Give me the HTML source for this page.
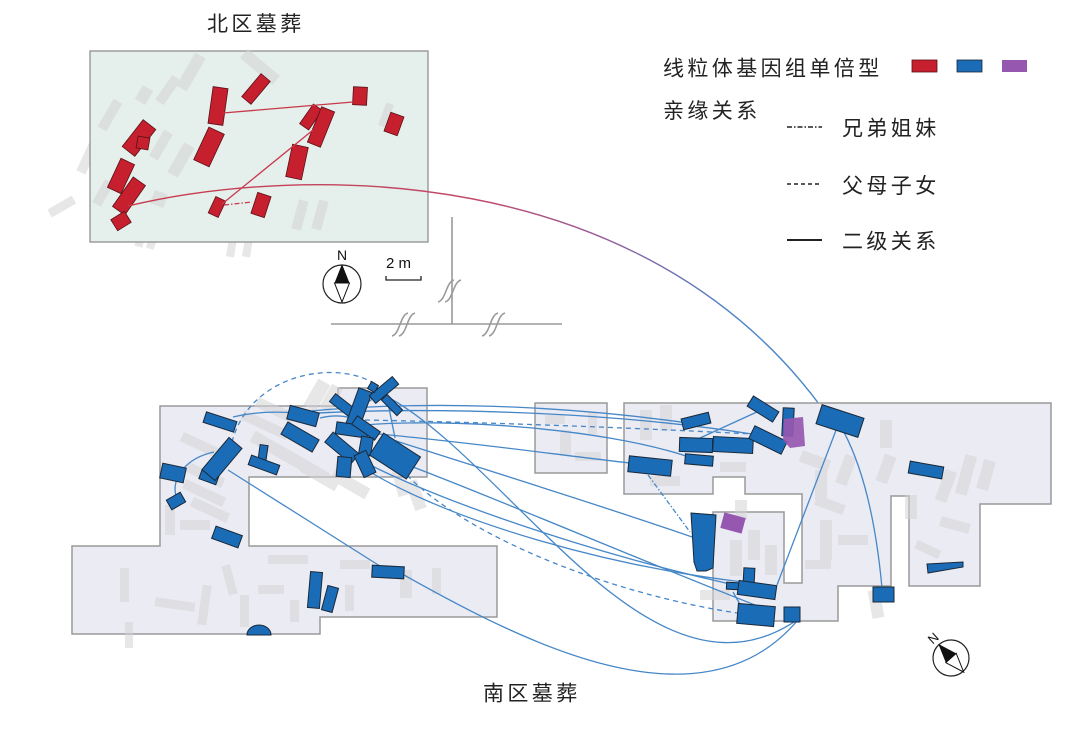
<!DOCTYPE html>
<html><head><meta charset="utf-8"><style>
html,body{margin:0;padding:0;background:#fff;}
svg{display:block;}
.cjk{font-family:"Liberation Sans","Noto Sans CJK SC",sans-serif;font-size:21px;letter-spacing:3.4px;fill:#222;}
.lat{font-family:"Liberation Sans",sans-serif;fill:#111;}
.r{fill:#c61f2e;stroke:#5a1018;stroke-width:0.8;}
.b{fill:#1a6cb6;stroke:#1b2838;stroke-width:1;}
.g{fill:#d4d4d6;opacity:.55;}
.bl{fill:none;stroke:#4687c8;stroke-width:1.3;}
</style></head><body>
<svg width="1080" height="737" viewBox="0 0 1080 737" xmlns="http://www.w3.org/2000/svg">
<defs>
<linearGradient id="gr" gradientUnits="userSpaceOnUse" x1="130" y1="0" x2="820" y2="0">
<stop offset="0" stop-color="#c8394a"/><stop offset="0.5" stop-color="#c04a6a"/><stop offset="0.68" stop-color="#9a5a9a"/><stop offset="0.88" stop-color="#4a85c6"/><stop offset="1" stop-color="#4687c8"/>
</linearGradient>
</defs>

<!-- north title -->
<text class="cjk" x="207" y="31">北区墓葬</text>

<!-- north ghost shapes outside -->
<g class="g">
<rect x="48" y="202" width="28" height="9" transform="rotate(-30 62 207)"/>
<rect x="83" y="140" width="10" height="34" transform="rotate(25 88 157)"/>
<rect x="137" y="227" width="8" height="20" transform="rotate(15 141 237)"/>
<rect x="228" y="233" width="8" height="24" transform="rotate(10 232 245)"/>
<rect x="244" y="233" width="8" height="24" transform="rotate(10 248 245)"/>
<rect x="148" y="235" width="8" height="14" transform="rotate(20 152 242)"/>
</g>

<!-- north box -->
<rect x="90" y="51" width="338" height="191" fill="#e5efeb" stroke="#8f8f8f" stroke-width="1.3"/>
<g class="g">
<rect x="105" y="99" width="10" height="32" transform="rotate(30 110 115)"/>
<rect x="138" y="87" width="12" height="16" transform="rotate(30 144 95)"/>
<rect x="163" y="75" width="10" height="30" transform="rotate(35 168 90)"/>
<rect x="185" y="53" width="12" height="38" transform="rotate(30 191 72)"/>
<rect x="254" y="46" width="12" height="42" transform="rotate(-50 260 67)"/>
<rect x="156" y="130" width="10" height="30" transform="rotate(30 161 145)"/>
<rect x="175" y="143" width="12" height="34" transform="rotate(30 181 160)"/>
<rect x="295" y="200" width="10" height="30" transform="rotate(15 300 215)"/>
<rect x="315" y="200" width="10" height="30" transform="rotate(15 320 215)"/>
<rect x="382" y="103" width="8" height="24" transform="rotate(20 386 115)"/>
<rect x="152" y="192" width="14" height="14" transform="rotate(20 159 199)"/>
<rect x="98" y="180" width="10" height="26" transform="rotate(30 103 193)"/>
</g>

<!-- red tombs -->
<rect class="r" x="210.5" y="87.5" width="15" height="37" transform="rotate(8 218 106)"/>
<rect class="r" x="250" y="74" width="12" height="30" transform="rotate(40 256 89)"/>
<rect class="r" x="200.5" y="129" width="17" height="36" transform="rotate(25 209 147)"/>
<rect class="r" x="353" y="87" width="14" height="18" transform="rotate(3 360 96)"/>
<rect class="r" x="387" y="114" width="14" height="20" transform="rotate(20 394 124)"/>
<rect class="r" x="305.5" y="105" width="11" height="24" transform="rotate(35 311 117)"/>
<rect class="r" x="314" y="108" width="14" height="38" transform="rotate(22 321 127)"/>
<rect class="r" x="289" y="145.5" width="16" height="33" transform="rotate(12 297 162)"/>
<rect class="r" x="131" y="121" width="16" height="34" transform="rotate(38 139 138)"/>
<rect class="r" x="137" y="137" width="12" height="12" transform="rotate(10 143 143)" fill="#b01827"/>
<rect class="r" x="113.5" y="160" width="15" height="32" transform="rotate(25 121 176)"/>
<rect class="r" x="121.5" y="178" width="15" height="36" transform="rotate(35 129 196)"/>
<rect class="r" x="114.5" y="213" width="13" height="16" transform="rotate(58 121 221)"/>
<rect class="r" x="211.5" y="198" width="11" height="18" transform="rotate(25 217 207)"/>
<rect class="r" x="254" y="194" width="14" height="22" transform="rotate(18 261 205)"/>

<!-- red links -->
<line x1="223" y1="113" x2="353" y2="102" stroke="#c8394a" stroke-width="1.3"/>
<line x1="222" y1="204" x2="313" y2="130" stroke="#c8394a" stroke-width="1.3"/>
<line x1="224" y1="205" x2="252" y2="202" stroke="#c8394a" stroke-width="1.3" stroke-dasharray="5,2,1.5,2"/>
<path d="M128,206 C300,165 640,160 822,408" fill="none" stroke="url(#gr)" stroke-width="1.4"/>

<!-- legend -->
<text class="cjk" x="663" y="75.5">线粒体基因组单倍型</text>
<rect x="912" y="60" width="25" height="12" fill="#c61f2e" stroke="#5a1018" stroke-width="0.8"/>
<rect x="957" y="60" width="25" height="12" fill="#1a6cb6" stroke="#1b2838" stroke-width="0.8"/>
<rect x="1002" y="60" width="25" height="12" fill="#9657b0"/>
<text class="cjk" x="663" y="118">亲缘关系</text>
<line x1="787" y1="127" x2="822" y2="127" stroke="#222" stroke-width="1.5" stroke-dasharray="5,2,1.5,2"/>
<text class="cjk" x="842" y="135.5">兄弟姐妹</text>
<line x1="787" y1="184" x2="822" y2="184" stroke="#222" stroke-width="1.5" stroke-dasharray="4,3"/>
<text class="cjk" x="842" y="193">父母子女</text>
<line x1="787" y1="240" x2="822" y2="240" stroke="#222" stroke-width="2"/>
<text class="cjk" x="842" y="248.5">二级关系</text>

<!-- compass north -->
<text class="lat" x="342" y="260" font-size="14" text-anchor="middle">N</text>
<circle cx="342" cy="284" r="19" fill="#fff" stroke="#222" stroke-width="1.2"/>
<polygon points="342,264 334.5,283 349.5,283" fill="#111"/>
<polygon points="334.5,283 349.5,283 342,302" fill="#fff" stroke="#111" stroke-width="1"/>
<!-- scale -->
<text class="lat" x="386" y="268" font-size="15">2 m</text>
<path d="M386,276 L386,280 L421,280 L421,276" fill="none" stroke="#222" stroke-width="1.3"/>

<!-- axes -->
<g stroke="#9a9a9a" stroke-width="1.6" fill="none">
<line x1="452" y1="217" x2="452" y2="324"/>
<line x1="331" y1="324" x2="562" y2="324"/>
<path d="M438,302 C446,300 446,282 454,280"/>
<path d="M445,302 C453,300 453,282 461,280"/>
<path d="M392,336 C400,334 400,315 408,313"/>
<path d="M399,336 C407,334 407,315 415,313"/>
<path d="M482,336 C490,334 490,315 498,313"/>
<path d="M489,336 C497,334 497,315 505,313"/>
</g>

<!-- south polygons -->
<g fill="#eaebf3" stroke="#9a9a9a" stroke-width="1.5">
<polygon points="160,406 338,406 338,388 427,388 427,477 249,477 249,546 497,546 497,617 320,617 320,634 72,634 72,546 160,546"/>
<rect x="535" y="403" width="72" height="70"/>
<polygon points="624,403 1051,403 1051,504 980,504 980,586 909,586 909,496 891,496 891,586 838,586 838,621 713,621 713,512 784,512 784,583 802,583 802,494 745,494 745,477 713,477 713,494 624,494"/>
</g>

<!-- south ghost shapes -->
<g class="g">
<rect x="310" y="380" width="14" height="30" transform="rotate(30 317 395)"/>
<rect x="325" y="385" width="12" height="26" transform="rotate(30 331 398)"/>
<rect x="185" y="470" width="40" height="10" transform="rotate(25 205 475)"/>
<rect x="182" y="488" width="44" height="10" transform="rotate(25 204 493)"/>
<rect x="190" y="505" width="40" height="10" transform="rotate(25 210 510)"/>
<rect x="240" y="420" width="50" height="10" transform="rotate(25 265 425)"/>
<rect x="250" y="440" width="40" height="12" transform="rotate(30 270 446)"/>
<rect x="280" y="460" width="50" height="12" transform="rotate(30 305 466)"/>
<rect x="300" y="470" width="40" height="12" transform="rotate(30 320 476)"/>
<rect x="330" y="478" width="40" height="12" transform="rotate(30 350 484)"/>
<rect x="255" y="405" width="40" height="10" transform="rotate(25 275 410)"/>
<rect x="180" y="440" width="40" height="10" transform="rotate(25 200 445)"/>
<rect x="395" y="470" width="12" height="26" transform="rotate(-15 401 483)"/>
<rect x="165" y="505" width="10" height="30"/>
<rect x="180" y="520" width="30" height="10"/>
<rect x="120" y="568" width="9" height="34"/>
<rect x="125" y="622" width="8" height="26"/>
<rect x="155" y="600" width="40" height="9" transform="rotate(8 175 604)"/>
<rect x="200" y="585" width="9" height="40" transform="rotate(8 204 605)"/>
<rect x="225" y="565" width="9" height="30" transform="rotate(-15 229 580)"/>
<rect x="240" y="595" width="9" height="32"/>
<rect x="258" y="585" width="26" height="9"/>
<rect x="268" y="555" width="40" height="9"/>
<rect x="290" y="600" width="9" height="22"/>
<rect x="340" y="560" width="30" height="9"/>
<rect x="345" y="585" width="9" height="26"/>
<rect x="400" y="570" width="12" height="28"/>
<rect x="432" y="568" width="9" height="26"/>
<rect x="410" y="480" width="12" height="30" transform="rotate(-20 416 495)"/>
<rect x="560" y="430" width="11" height="26"/>
<rect x="575" y="452" width="26" height="9"/>
<rect x="588" y="412" width="9" height="22"/>
<rect x="545" y="415" width="20" height="9"/>
<rect x="640" y="410" width="12" height="30"/>
<rect x="660" y="405" width="12" height="26"/>
<rect x="650" y="476" width="30" height="10"/>
<rect x="720" y="462" width="26" height="10"/>
<rect x="800" y="455" width="30" height="12" transform="rotate(20 815 461)"/>
<rect x="815" y="470" width="12" height="30"/>
<rect x="840" y="455" width="12" height="30" transform="rotate(20 846 470)"/>
<rect x="880" y="455" width="12" height="28" transform="rotate(20 886 469)"/>
<rect x="880" y="420" width="12" height="28"/>
<rect x="940" y="470" width="12" height="32" transform="rotate(20 946 486)"/>
<rect x="960" y="455" width="12" height="40" transform="rotate(15 966 475)"/>
<rect x="980" y="460" width="12" height="30" transform="rotate(15 986 475)"/>
<rect x="905" y="495" width="12" height="24"/>
<rect x="915" y="545" width="26" height="9" transform="rotate(25 928 549)"/>
<rect x="815" y="500" width="30" height="10" transform="rotate(20 830 505)"/>
<rect x="820" y="520" width="12" height="40"/>
<rect x="838" y="535" width="30" height="10"/>
<rect x="805" y="560" width="26" height="9"/>
<rect x="730" y="540" width="12" height="36"/>
<rect x="748" y="530" width="12" height="30"/>
<rect x="765" y="545" width="12" height="30"/>
<rect x="735" y="500" width="12" height="20"/>
<rect x="700" y="590" width="30" height="10"/>
<rect x="870" y="590" width="12" height="28" transform="rotate(-10 876 604)"/>
<rect x="940" y="520" width="30" height="10" transform="rotate(15 955 525)"/>
</g>

<!-- blue links -->
<g class="bl">
<path d="M233,417 Q262,410 295,413"/>
<path d="M300,412 C420,400 560,405 688,423"/>
<path d="M300,414 C430,406 610,412 752,434"/>
<path d="M365,425 C450,418 600,428 686,456"/>
<path d="M368,433 C450,440 560,455 630,463"/>
<path d="M393,440 C480,468 600,505 692,537"/>
<path d="M370,472 C450,520 600,565 743,582"/>
<path d="M368,464 C450,505 600,555 730,584"/>
<path d="M413,467 C500,500 640,560 760,607"/>
<path d="M384,395 C510,460 650,720 797,620"/>
<path d="M404,575 C520,640 700,735 797,621"/>
<path d="M228,470 L383,568"/>
<path d="M214,452 C186,458 171,478 176,496"/>
<path d="M700,438 L770,406"/>
<path d="M838,425 L777,585"/>
<path d="M840,425 Q872,480 882,588"/>
<path d="M733,592 L741,606"/>
<path d="M387,398 L395,438"/>
<path d="M360,408 L378,395"/>
<path d="M320,418 C345,412 360,420 372,430"/>
</g>
<g class="bl" stroke-dasharray="5,4">
<path d="M232,442 C250,372 340,358 378,386"/>
<path d="M395,462 C450,530 600,592 737,613"/>
<path d="M365,420 Q560,424 752,434"/>
</g>
<path d="M648,475 L690,532" class="bl" stroke-dasharray="5,2,1.5,2"/>

<!-- blue tombs -->
<rect class="b" x="204" y="416.5" width="32" height="11" transform="rotate(18 220 422)"/>
<rect class="b" x="200" y="473" width="18" height="9" transform="rotate(20 209 477)"/>
<rect class="b" x="213.5" y="438" width="17" height="42" transform="rotate(40 222 459)"/>
<rect class="b" x="161" y="465.5" width="24" height="15" transform="rotate(12 173 473)"/>
<rect class="b" x="168" y="495.5" width="16" height="11" transform="rotate(-30 176 501)"/>
<rect class="b" x="213" y="530.5" width="28" height="13" transform="rotate(20 227 537)"/>
<rect class="b" x="259" y="445" width="8" height="16" transform="rotate(8 263 453)"/>
<rect class="b" x="249" y="460" width="30" height="10" transform="rotate(20 264 465)"/>
<path class="b" d="M247,635 A12,10 0 0 1 271,635 Z"/>
<rect class="b" x="288" y="409" width="30" height="14" transform="rotate(15 303 416)"/>
<rect class="b" x="282" y="430" width="36" height="14" transform="rotate(30 300 437)"/>
<rect class="b" x="330" y="400" width="24" height="10" transform="rotate(38 342 405)"/>
<rect class="b" x="352" y="389" width="14" height="38" transform="rotate(20 359 408)"/>
<rect class="b" x="379" y="375" width="10" height="30" transform="rotate(50 384 390)"/>
<rect class="b" x="369" y="383" width="8" height="8" transform="rotate(30 373 387)"/>
<rect class="b" x="388" y="394" width="8" height="22" transform="rotate(-45 392 405)"/>
<rect class="b" x="336" y="424" width="32" height="12" transform="rotate(8 352 430)"/>
<rect class="b" x="361" y="414" width="10" height="28" transform="rotate(-55 366 428)"/>
<rect class="b" x="325" y="441.5" width="34" height="13" transform="rotate(40 342 448)"/>
<rect class="b" x="337" y="457" width="14" height="20" transform="rotate(5 344 467)"/>
<rect class="b" x="360" y="437" width="12" height="18" transform="rotate(10 366 446)"/>
<rect class="b" x="358.5" y="452" width="13" height="24" transform="rotate(-25 365 464)"/>
<rect class="b" x="382" y="434" width="26" height="44" transform="rotate(-57 395 456)"/>
<rect class="b" x="372" y="566" width="32" height="12" transform="rotate(3 388 572)"/>
<rect class="b" x="309" y="572" width="12" height="36" transform="rotate(5 315 590)"/>
<rect class="b" x="324.5" y="586.5" width="11" height="25" transform="rotate(15 330 599)"/>

<rect class="b" x="628.5" y="458" width="43" height="16" transform="rotate(6 650 466)"/>
<rect class="b" x="682" y="415.5" width="28" height="11" transform="rotate(-14 696 421)"/>
<rect class="b" x="679.5" y="438" width="33" height="14" transform="rotate(2 696 445)"/>
<rect class="b" x="713" y="437.5" width="40" height="15" transform="rotate(3 733 445)"/>
<rect class="b" x="685" y="455" width="28" height="10" transform="rotate(5 699 460)"/>
<rect class="b" x="750" y="433" width="36" height="14" transform="rotate(26 768 440)"/>
<rect class="b" x="748" y="403" width="30" height="12" transform="rotate(32 763 409)"/>
<rect class="b" x="782.5" y="408" width="11" height="28" transform="rotate(3 788 422)"/>
<polygon points="784,419 803,417 805,446 790,448 783,440" fill="#9657b0" opacity="0.92"/>
<rect class="b" x="818" y="411" width="44" height="20" transform="rotate(18 840 421)"/>
<rect class="b" x="909" y="464" width="34" height="12" transform="rotate(10 926 470)"/>
<polygon class="b" points="927,564 963,562 963,567 928,573"/>
<rect class="b" x="873" y="587" width="21" height="15"/>
<polygon class="b" points="691,513 716,515 713,568 706,571 697,571 694,562"/>
<rect x="722" y="515" width="22" height="16" transform="rotate(15 733 523)" fill="#9657b0"/>
<rect class="b" x="743.5" y="568" width="11" height="16" transform="rotate(3 749 576)"/>
<rect class="b" x="726.5" y="582.5" width="13" height="7" transform="rotate(3 733 586)"/>
<rect class="b" x="738" y="583" width="38" height="14" transform="rotate(8 757 590)"/>
<rect class="b" x="737.5" y="605" width="37" height="20" transform="rotate(5 756 615)"/>
<rect class="b" x="784" y="607" width="16" height="15"/>

<!-- compass south -->
<g transform="translate(951 658) rotate(-42)">
<circle cx="0" cy="0" r="18" fill="#fff" stroke="#222" stroke-width="1.2"/>
<polygon points="0,-19 -7,0 7,0" fill="#111"/>
<polygon points="-7,0 7,0 0,19" fill="#fff" stroke="#111" stroke-width="1"/>
<text class="lat" x="0" y="-22" font-size="13" text-anchor="middle">N</text>
</g>

<text class="cjk" x="483" y="700.5">南区墓葬</text>
</svg>
</body></html>
